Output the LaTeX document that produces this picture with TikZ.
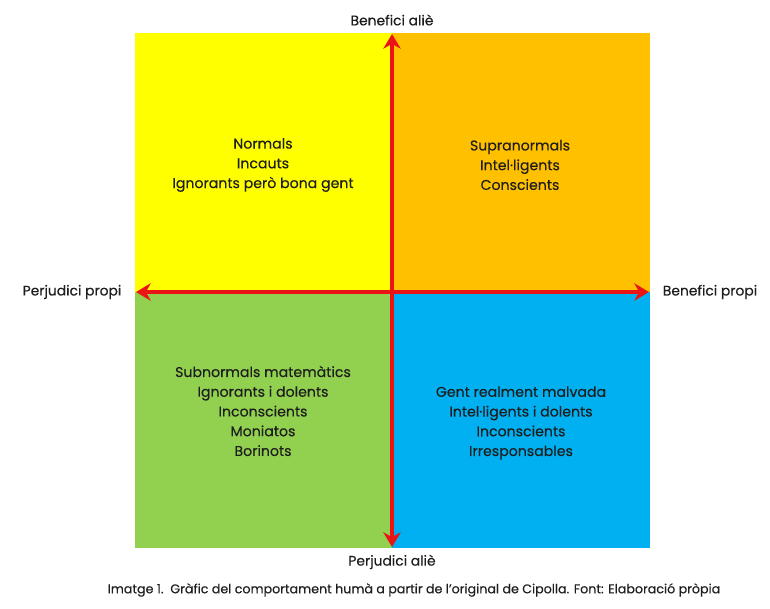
\documentclass[tikz,border=0pt]{standalone}
\usepackage{fontspec}
\setmainfont{Poppins}[FakeBold=0.25]
\usetikzlibrary{arrows.meta}
\definecolor{qyellow}{RGB}{255,255,0}
\definecolor{qorange}{RGB}{255,192,0}
\definecolor{qgreen}{RGB}{146,208,80}
\definecolor{qblue}{RGB}{0,176,240}
\definecolor{axisred}{RGB}{235,20,20}
\definecolor{txt}{RGB}{30,30,30}
\begin{document}
\begin{tikzpicture}[x=0.75pt,y=-0.75pt,
  quadtext/.style={align=center,font=\fontsize{10.6}{14.8}\selectfont,text=txt,inner sep=0pt},
  axislabel/.style={font=\fontsize{10.4}{12}\selectfont,text=txt,inner sep=0pt},
  axisarrow/.style={draw=axisred,line width=3pt,{Stealth[length=11pt,width=13pt]}-{Stealth[length=11pt,width=13pt]}}]
\useasboundingbox[fill=white] (0,0) rectangle (770,609);
\fill[qyellow] (135,33) rectangle (392,292);
\fill[qorange] (392,33) rectangle (650,292);
\fill[qgreen] (135,292) rectangle (392,548);
\fill[qblue] (392,292) rectangle (650,548);
\coordinate (left) at (136,292);
\coordinate (right) at (649,292);
\coordinate (top) at (392,34);
\coordinate (bottom) at (392,547);
\draw[axisarrow] (left) -- (right);
\draw[axisarrow] (top) -- (bottom);
\node[quadtext] (tl) at (263,165) {Normals\\Incauts\\Ignorants però bona gent};
\node[quadtext] (tr) at (520,165) {Supranormals\\Intel·ligents\\Conscients};
\node[quadtext] (bl) at (263,411) {Subnormals matemàtics\\Ignorants i dolents\\Inconscients\\Moniatos\\Borinots};
\node[quadtext] (br) at (521,423) {Gent realment malvada\\Intel·ligents i dolents\\Inconscients\\Irresponsables};
\node[axislabel] (ba) at (392,20) {Benefici aliè};
\node[axislabel] (pa) at (392,562) {Perjudici aliè};
\node[axislabel] (pp) at (72,292) {Perjudici propi};
\node[axislabel] (bp) at (710,292) {Benefici propi};
\node[font=\fontsize{9.5}{10}\selectfont,text=txt,inner sep=0pt] (cap) at (414,590) {Imatge 1.\ \ Gràfic del comportament humà a partir de l'original de Cipolla. Font: Elaboració pròpia};
\end{tikzpicture}
\end{document}
